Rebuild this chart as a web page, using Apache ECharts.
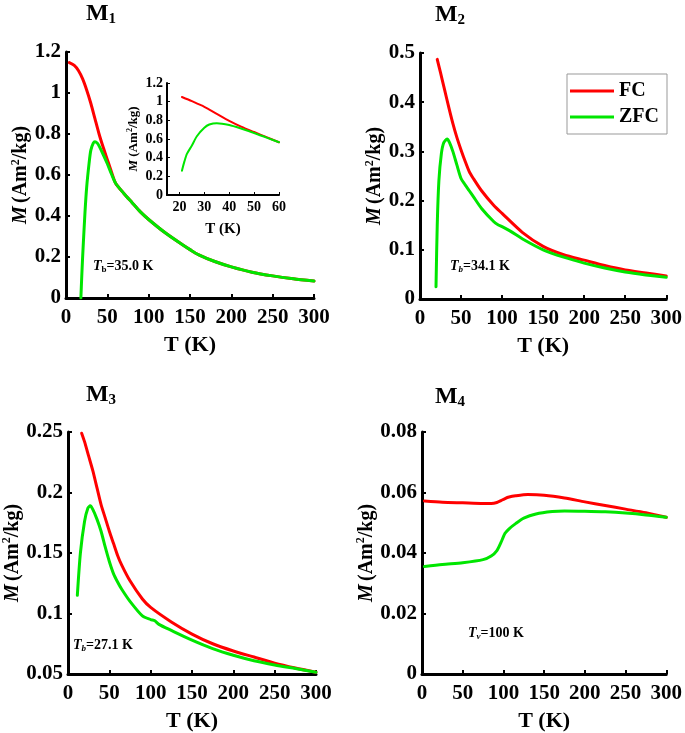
<!DOCTYPE html>
<html><head><meta charset="utf-8">
<script src="https://cdn.jsdelivr.net/npm/echarts@6/dist/echarts.min.js"></script>
<style>html,body{margin:0;padding:0;background:#fff}#c{width:685px;height:733px}</style>
</head><body><div id="c"></div>
<script>
// ---------- data ----------
const T1fc  = [4,10,15,20,25,30,35,40,45,50,55,60,70,80,90,100,120,140,150,160,180,200,225,250,275,300];
const M1fc  = [1.148,1.135,1.11,1.07,1.015,0.95,0.875,0.80,0.735,0.675,0.615,0.56,0.51,0.465,0.42,0.383,0.318,0.262,0.236,0.212,0.178,0.152,0.126,0.108,0.094,0.083];
const T1zfc = [18,19,20,21,23,25,28,30,33,35,38,40,45,50,55,60,70,80,90,100,120,140,150,160,180,200,225,250,275,300];
const M1zfc = [0.0,0.1,0.19,0.27,0.42,0.54,0.66,0.72,0.755,0.762,0.755,0.742,0.70,0.655,0.605,0.56,0.51,0.465,0.42,0.383,0.318,0.262,0.236,0.212,0.178,0.152,0.126,0.108,0.094,0.083];

const TinFc  = [21,25,30,35,40,45,50,55,60];
const MinFc  = [1.05,1.005,0.945,0.87,0.795,0.73,0.675,0.62,0.565];
const TinZfc = [21,22,23,25,27,30,32,35,40,45,50,55,60];
const MinZfc = [0.26,0.36,0.44,0.53,0.63,0.72,0.755,0.77,0.75,0.71,0.665,0.615,0.565];

const T2fc  = [21,25,30,35,40,45,50,55,60,65,75,90,100,125,150,175,200,225,250,275,300];
const M2fc  = [0.487,0.46,0.425,0.39,0.357,0.328,0.303,0.28,0.259,0.245,0.22,0.19,0.174,0.135,0.107,0.09,0.079,0.068,0.059,0.053,0.047];
const T2zfc = [19.5,21,23,26,29,33,36,40,45,50,55,60,65,75,90,95,100,110,125,150,175,200,225,250,275,300];
const M2zfc = [0.025,0.15,0.24,0.295,0.318,0.325,0.318,0.30,0.272,0.245,0.232,0.22,0.208,0.184,0.157,0.151,0.147,0.138,0.122,0.1,0.085,0.073,0.063,0.055,0.049,0.044];

const T3fc  = [16.5,20,25,30,35,40,45,50,55,60,65,75,90,100,125,150,175,200,225,250,275,300];
const M3fc  = [0.249,0.242,0.23,0.218,0.204,0.19,0.179,0.168,0.158,0.148,0.14,0.127,0.112,0.105,0.093,0.083,0.075,0.069,0.064,0.059,0.055,0.0515];
const T3zfc = [11.3,15,20,24,27,30,35,40,45,50,55,60,65,75,90,100,105,110,125,150,175,200,225,250,275,300];
const M3zfc = [0.115,0.15,0.176,0.187,0.189,0.186,0.178,0.168,0.155,0.143,0.133,0.126,0.12,0.11,0.098,0.095,0.094,0.091,0.086,0.078,0.071,0.0655,0.061,0.0575,0.0545,0.0515];

const T4fc  = [3,25,50,75,85,92,97,102,107,115,130,150,175,200,225,250,275,300];
const M4fc  = [0.0572,0.0568,0.0566,0.0564,0.0564,0.0567,0.0573,0.058,0.0585,0.0589,0.0593,0.0591,0.0582,0.0569,0.0557,0.0545,0.0533,0.0518];
const T4zfc = [3,25,50,75,85,92,97,102,107,115,125,140,160,175,200,225,250,275,300];
const M4zfc = [0.0355,0.0362,0.0368,0.0378,0.039,0.0408,0.0435,0.0465,0.048,0.0497,0.0515,0.0529,0.0537,0.0539,0.0538,0.0536,0.0532,0.0526,0.0518];

const seriesNames = ['FC','ZFC'];
const panelTitles = ['1','2','3','4'];
const yRanges = [[0,1.2,0.2],[0,0.5,0.1],[0.05,0.25,0.05],[0,0.08,0.02]];
const insetXTicks = [20,30,40,50,60];

// ---------- helpers ----------
const F = '"Liberation Serif","Times New Roman",serif';
const RED = '#ff0000', GREEN = '#00e600';
const zip = (a,b) => a.map((v,i)=>[v,b[i]]);

function yName(fs){
  return {
    name: '{i|M} {r|(Am}{s|2}{r|/kg)}',
    nameTextStyle: { rich: {
      i: {fontFamily:F, fontWeight:'bold', fontStyle:'italic', fontSize:fs, color:'#000', lineHeight:fs+2},
      r: {fontFamily:F, fontWeight:'bold', fontSize:fs, color:'#000', lineHeight:fs+2},
      s: {fontFamily:F, fontWeight:'bold', fontSize:Math.round(fs*0.6), color:'#000', lineHeight:Math.round(fs*0.6), verticalAlign:'top'}
    }}
  };
}
function axisCommon(lw, fs){
  return {
    axisLine:{show:true, onZero:false, lineStyle:{color:'#000', width:lw}},
    axisTick:{show:true, inside:true, length:4, lineStyle:{color:'#000', width:Math.max(1,lw-1)}},
    splitLine:{show:false},
    axisLabel:{fontFamily:F, fontWeight:'bold', fontSize:fs, color:'#000'}
  };
}

const grids = [
  {left:66, top:52, width:248, height:246},
  {left:420, top:53, width:248, height:246},
  {left:68, top:432, width:248, height:244},
  {left:422, top:432, width:247, height:245},
  {left:167, top:83, width:112, height:112}
];

const xAxes = [], yAxes = [];
for (let i=0;i<4;i++){
  const c = axisCommon(3, 21);
  xAxes.push(Object.assign({}, c, {
    type:'value', gridIndex:i, min:0, max:300, interval:50,
    axisLabel:Object.assign({}, c.axisLabel, {margin:9}),
    name:'T (K)', nameLocation:'middle', nameGap:36,
    nameTextStyle:{fontFamily:F, fontWeight:'bold', fontSize:22, color:'#000'}
  }));
  const yn = yName(20);
  yAxes.push(Object.assign({}, c, {
    type:'value', gridIndex:i, min:yRanges[i][0], max:yRanges[i][1], interval:yRanges[i][2],
    axisLabel:Object.assign({}, c.axisLabel, {margin:5}),
    name:yn.name, nameLocation:'middle', nameGap:32, nameTextStyle:yn.nameTextStyle
  }));
}
// inset
{
  const c = axisCommon(2, 14);
  xAxes.push(Object.assign({}, c, {
    type:'value', gridIndex:4, min:15, max:60,
    axisTick:Object.assign({}, c.axisTick, {length:3, customValues:insetXTicks}),
    axisLabel:Object.assign({}, c.axisLabel, {margin:5, customValues:insetXTicks}),
    name:'T (K)', nameLocation:'middle', nameGap:27,
    nameTextStyle:{fontFamily:F, fontWeight:'bold', fontSize:15, color:'#000'}
  }));
  const yn = yName(13);
  yAxes.push(Object.assign({}, c, {
    type:'value', gridIndex:4, min:0, max:1.2, interval:0.2,
    axisTick:Object.assign({}, c.axisTick, {length:3}),
    axisLabel:Object.assign({}, c.axisLabel, {margin:4}),
    name:yn.name, nameLocation:'middle', nameGap:26, nameTextStyle:yn.nameTextStyle
  }));
}

function line(name, idx, data, color, w){
  return {type:'line', name, xAxisIndex:idx, yAxisIndex:idx, data, showSymbol:false, symbol:'none',
    smooth:0.25, lineStyle:{color, width:w, cap:'round', join:'round'}, itemStyle:{color}, animation:false, z:name==='ZFC'?3:2};
}
const series = [
  line(seriesNames[0],0,zip(T1fc,M1fc),RED,3), line(seriesNames[1],0,zip(T1zfc,M1zfc),GREEN,3),
  line(seriesNames[0],1,zip(T2fc,M2fc),RED,3), line(seriesNames[1],1,zip(T2zfc,M2zfc),GREEN,3),
  line(seriesNames[0],2,zip(T3fc,M3fc),RED,3), line(seriesNames[1],2,zip(T3zfc,M3zfc),GREEN,3),
  line(seriesNames[0],3,zip(T4fc,M4fc),RED,3), line(seriesNames[1],3,zip(T4zfc,M4zfc),GREEN,3),
  line(seriesNames[0],4,zip(TinFc,MinFc),RED,2), line(seriesNames[1],4,zip(TinZfc,MinZfc),GREEN,2)
];

const titleRich = {
  m:{fontFamily:F, fontWeight:'bold', fontSize:24, color:'#000', lineHeight:26},
  s:{fontFamily:F, fontWeight:'bold', fontSize:15, color:'#000', lineHeight:15, verticalAlign:'bottom'}
};
const titlePos = [[101,14],[450,15],[101,395],[450,397]];
const annRich = {
  i:{fontFamily:F, fontWeight:'bold', fontStyle:'italic', fontSize:14, color:'#000', lineHeight:16},
  r:{fontFamily:F, fontWeight:'bold', fontSize:14, color:'#000', lineHeight:16},
  sb:{fontFamily:F, fontWeight:'bold', fontSize:9, color:'#000', lineHeight:9, verticalAlign:'bottom'},
  si:{fontFamily:F, fontWeight:'bold', fontStyle:'italic', fontSize:9, color:'#000', lineHeight:9, verticalAlign:'bottom'}
};
const annotations = [
  {x:93, y:266, text:'{i|T}{sb|b}{r|=35.0 K}'},
  {x:450, y:266, text:'{i|T}{si|b}{r|=34.1 K}'},
  {x:73, y:645, text:'{i|T}{si|b}{r|=27.1 K}'},
  {x:468, y:633, text:'{i|T}{si|v}{r|=100 K}'}
];
const graphic = [];
titlePos.forEach((p,i)=>graphic.push({type:'text', x:p[0], y:p[1], style:{text:'{m|M}{s|'+panelTitles[i]+'}', rich:titleRich, align:'center', verticalAlign:'middle'}}));
annotations.forEach(a=>graphic.push({type:'text', x:a.x, y:a.y, style:{text:a.text, rich:annRich, align:'left', verticalAlign:'middle'}}));

const chart = echarts.init(document.getElementById('c'), null, {renderer:'canvas'});
chart.setOption({
  animation:false,
  backgroundColor:'#fff',
  grid:grids, xAxis:xAxes, yAxis:yAxes, series, graphic,
  legend:{
    data:[{name:'FC', itemStyle:{color:RED}}, {name:'ZFC', itemStyle:{color:GREEN}}],
    left:567, top:74, orient:'vertical', icon:'rect', itemWidth:44, itemHeight:3, itemGap:6,
    padding:[7,8,7,3], borderColor:'#999', borderWidth:1,
    textStyle:{fontFamily:F, fontWeight:'bold', fontSize:20, color:'#000'}
  }
});
</script></body></html>
